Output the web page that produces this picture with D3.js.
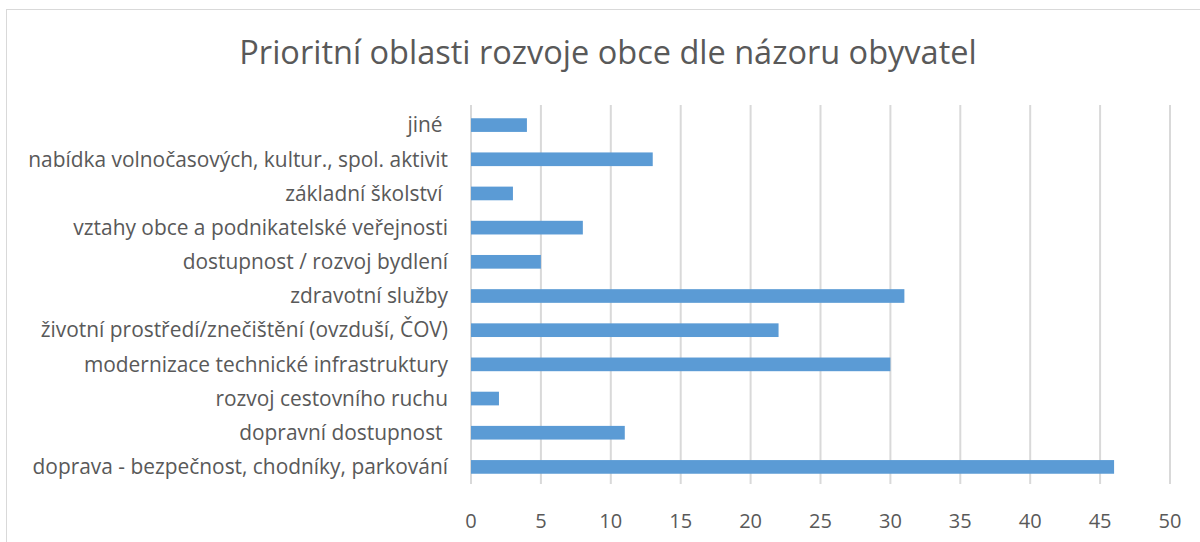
<!DOCTYPE html>
<html>
<head>
<meta charset="utf-8">
<script src="https://cdn.jsdelivr.net/npm/d3@7"></script>
<style>
  body { margin: 0; background: #fff; }
  svg text { font-family: "Open Sans", "Noto Sans", sans-serif; fill: #595959; white-space: pre; }
</style>
</head>
<body>
<svg id="canvas" width="1200" height="542"></svg>
<script>
// categories top to bottom as in the chart
let categories = [
  "jiné ",
  "nabídka volnočasových, kultur., spol. aktivit",
  "základní školství ",
  "vztahy obce a podnikatelské veřejnosti",
  "dostupnost / rozvoj bydlení",
  "zdravotní služby",
  "životní prostředí/znečištění (ovzduší, ČOV)",
  "modernizace technické infrastruktury",
  "rozvoj cestovního ruchu",
  "dopravní dostupnost ",
  "doprava - bezpečnost, chodníky, parkování"
];
let values = [4, 13, 3, 8, 5, 31, 22, 30, 2, 11, 46];
let ticks = [0, 5, 10, 15, 20, 25, 30, 35, 40, 45, 50];
let title = "Prioritní oblasti rozvoje obce dle názoru obyvatel";

let canvas = d3.select("#canvas");

// chart frame (runs off the right / bottom edges)
canvas.append("rect")
  .attr("x", 6.5).attr("y", 9.5)
  .attr("width", 1220).attr("height", 560)
  .attr("fill", "none").attr("stroke", "#d9d9d9");

canvas.append("text")
  .attr("x", 608).attr("y", 64)
  .attr("text-anchor", "middle")
  .style("font-size", "32.5px")
  .text(title);

let x = d3.scaleLinear().domain([0, 50]).range([471, 1170]);
let y = d3.scaleBand().domain(categories).range([108, 484]).paddingInner(0.6).paddingOuter(0.3);

// gridlines
canvas.selectAll("line.grid")
  .data(ticks)
  .enter()
  .append("line")
  .attr("class", "grid")
  .attr("x1", d => x(d)).attr("x2", d => x(d))
  .attr("y1", 105).attr("y2", 484)
  .attr("stroke", "#d9d9d9")
  .attr("stroke-width", 2);

canvas.selectAll("rect.bar")
  .data(values)
  .enter()
  .append("rect")
  .attr("class", "bar")
  .attr("x", x(0))
  .attr("y", (d, i) => y(categories[i]))
  .attr("width", d => x(d) - x(0))
  .attr("height", y.bandwidth())
  .attr("fill", "#5b9bd5");

// category labels
canvas.selectAll("text.cat")
  .data(categories)
  .enter()
  .append("text")
  .attr("class", "cat")
  .attr("x", 448)
  .attr("y", d => y(d) + y.bandwidth() / 2)
  .attr("dy", "0.35em")
  .attr("text-anchor", "end")
  .style("font-size", "20.9px")
  .text(d => d);

// tick labels
canvas.selectAll("text.tick")
  .data(ticks)
  .enter()
  .append("text")
  .attr("class", "tick")
  .attr("x", d => x(d))
  .attr("y", 528)
  .attr("text-anchor", "middle")
  .style("font-size", "20px")
  .text(d => d);
</script>
</body>
</html>
